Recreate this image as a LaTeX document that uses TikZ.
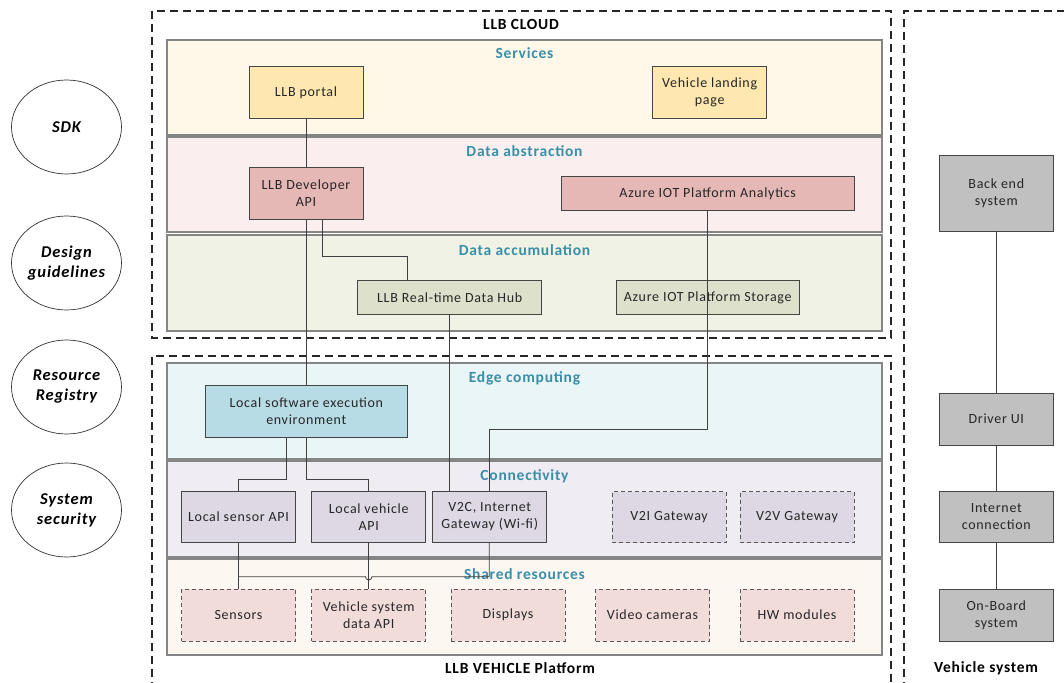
\documentclass[tikz,border=0pt]{standalone}
\usepackage{fontspec}
\setmainfont{Carlito}[LetterSpace=5]
\usetikzlibrary{shapes.geometric}
\definecolor{headc}{HTML}{3A8FA8}
\definecolor{layerb}{HTML}{858585}
\definecolor{nodeb}{HTML}{454545}
\definecolor{fserv}{HTML}{FFF8E9}
\definecolor{fabs}{HTML}{FAEFEE}
\definecolor{facc}{HTML}{EFF2E4}
\definecolor{fedge}{HTML}{E9F5F7}
\definecolor{fconn}{HTML}{EFECF4}
\definecolor{fshar}{HTML}{FDF7F1}
\definecolor{nserv}{HTML}{FFE8B0}
\definecolor{nabs}{HTML}{E5B8B5}
\definecolor{nacc}{HTML}{DDE1CB}
\definecolor{nedge}{HTML}{B8DCE6}
\definecolor{nconn}{HTML}{DDD8E4}
\definecolor{nshar}{HTML}{F1DCDA}
\definecolor{nveh}{HTML}{C0C0C0}
\tikzset{
  layer/.style={draw=layerb, line width=1.1pt},
  head/.style={text=headc, font=\fontsize{15.5}{17}\selectfont\bfseries},
  title/.style={font=\fontsize{15.5}{17}\selectfont\bfseries},
  box/.style={draw=nodeb, line width=0.9pt, align=center, inner sep=0pt, font=\fontsize{14}{17}\selectfont, text=black!85},
  dbox/.style={box, dashed, dash pattern=on 4pt off 3pt, draw=nodeb!90},
  outer/.style={draw=black!85, line width=1.2pt, dash pattern=on 8pt off 5pt},
  wire/.style={draw=black!75, line width=0.8pt},
  circ/.style={draw=black!80, line width=0.7pt, ellipse, minimum width=110pt, minimum height=94pt, inner sep=0pt, align=center, font=\fontsize{16.5}{20}\selectfont\bfseries\itshape}
}
\begin{document}
\begin{tikzpicture}[x=1pt,y=-1pt]
\useasboundingbox (0,0) rectangle (1064,682);
% outer dashed boxes
\draw[outer] (152,11) rectangle (891,338);
\draw[outer] (152,690) -- (152,356) -- (891,356) -- (891,690);
\draw[outer] (904,690) -- (904,11) -- (1070,11);
\node[title] (tcloud) at (521,24) {LLB CLOUD};
\node[title] (tveh) at (520,668) {LLB VEHICLE Platform};
\node[title] (tvs) at (986,668) {Vehicle system};
% layers
\draw[layer, fill=fserv] (167,40) rectangle (882,135);
\draw[layer, fill=fabs] (167,137) rectangle (882,232);
\draw[layer, fill=facc] (167,235) rectangle (882,331);
\draw[layer, fill=fedge] (167,363) rectangle (882,459);
\draw[layer, fill=fconn] (167,461) rectangle (882,557);
\draw[layer, fill=fshar] (167,559) rectangle (882,655);
\node[head] (hserv) at (524.5,53) {Services};
\node[head] (habs) at (524.5,151) {Data abstraction};
\node[head] (hacc) at (524.5,250) {Data accumulation};
\node[head] (hedge) at (524.5,378) {Edge computing};
\node[head] (hconn) at (524.5,476) {Connectivity};
\node[head] (hshar) at (524.5,574) {Shared resources};
% left ellipses
\node[circ] (sdk) at (66.5,127) {SDK};
\node[circ] (dg) at (66.5,263) {Design\\guidelines};
\node[circ] (rr) at (66.5,387) {Resource\\Registry};
\node[circ] (ss) at (66.5,510) {System\\security};
% cloud nodes
\node[box, fill=nserv, minimum width=114pt, minimum height=52pt] (portal) at (306,92.5) {LLB portal};
\node[box, fill=nserv, minimum width=114pt, minimum height=52pt] (landing) at (709.7,92.5) {Vehicle landing\\page};
\node[box, fill=nabs, minimum width=114pt, minimum height=52pt] (devapi) at (306,193.5) {LLB Developer\\API};
\node[box, fill=nabs, minimum width=293pt, minimum height=34pt] (analytics) at (707.7,193.5) {Azure IOT Platform Analytics};
\node[box, fill=nacc, minimum width=184pt, minimum height=34pt] (hub) at (449.7,297.7) {LLB Real-time Data Hub};
\node[box, fill=nacc, minimum width=183pt, minimum height=34pt] (storage) at (707.7,297.7) {Azure IOT Platform Storage};
% vehicle nodes
\node[box, fill=nedge, minimum width=202pt, minimum height=52pt] (lsee) at (306.3,411.3) {Local software execution\\environment};
\node[box, fill=nconn, minimum width=114pt, minimum height=51pt] (lsapi) at (238.5,517) {Local sensor API};
\node[box, fill=nconn, minimum width=114pt, minimum height=51pt] (lvapi) at (368.7,517) {Local vehicle\\API};
\node[box, fill=nconn, minimum width=114pt, minimum height=51pt] (v2c) at (489.7,517) {V2C, Internet\\Gateway (Wi-fi)};
\node[dbox, fill=nconn, minimum width=114pt, minimum height=51pt] (v2i) at (669,517) {V2I Gateway};
\node[dbox, fill=nconn, minimum width=114pt, minimum height=51pt] (v2v) at (797,517) {V2V Gateway};
\node[dbox, fill=nshar, minimum width=114pt, minimum height=52pt] (sensors) at (238.5,615) {Sensors};
\node[dbox, fill=nshar, minimum width=114pt, minimum height=52pt] (vsdapi) at (368.7,615) {Vehicle system\\data API};
\node[dbox, fill=nshar, minimum width=114pt, minimum height=52pt] (displays) at (508,615) {Displays};
\node[dbox, fill=nshar, minimum width=114pt, minimum height=52pt] (cams) at (652.5,615) {Video cameras};
\node[dbox, fill=nshar, minimum width=114pt, minimum height=52pt] (hw) at (797,615) {HW modules};
% vehicle system column
\node[box, fill=nveh, minimum width=114pt, minimum height=76pt] (backend) at (996.3,193) {Back end\\system};
\node[box, fill=nveh, minimum width=114pt, minimum height=52pt] (driver) at (996.3,419) {Driver UI};
\node[box, fill=nveh, minimum width=114pt, minimum height=51pt] (inet) at (996.3,517) {Internet\\connection};
\node[box, fill=nveh, minimum width=114pt, minimum height=52pt] (onboard) at (996.3,615) {On-Board\\system};
% connectors
\draw[wire] (portal.south) -- (devapi.north);
\draw[wire] (devapi.south) -- (lsee.north -| devapi.south);
\draw[wire] (devapi.south -| 322.7,0) -- (322.7,256.7) -- (407.3,256.7) -- (hub.north -| 407.3,0);
\draw[wire] (analytics.south) -- (707.7,429) -- (489.3,429) -- (v2c.north -| 489.3,0);
\draw[wire] (hub.south) -- (v2c.north -| hub.south);
\draw[wire] (lsee.south -| 286,0) -- (286,479) -- (238.5,479) -- (lsapi.north);
\draw[wire] (lsee.south -| 306,0) -- (306,479) -- (368.7,479) -- (lvapi.north);
\draw[wire] (lsapi.south) -- (sensors.north);
\draw[wire] (lvapi.south) -- (vsdapi.north);
\draw[wire] (v2c.south -| 489.3,0) -- (489.3,576.7) -- (372,576.7) arc[start angle=0, end angle=180, radius=3.3] -- (238.5,576.7);
\draw[wire] (backend.south) -- (driver.north);
\draw[wire] (driver.south) -- (inet.north);
\draw[wire] (inet.south) -- (onboard.north);
\end{tikzpicture}
\end{document}
